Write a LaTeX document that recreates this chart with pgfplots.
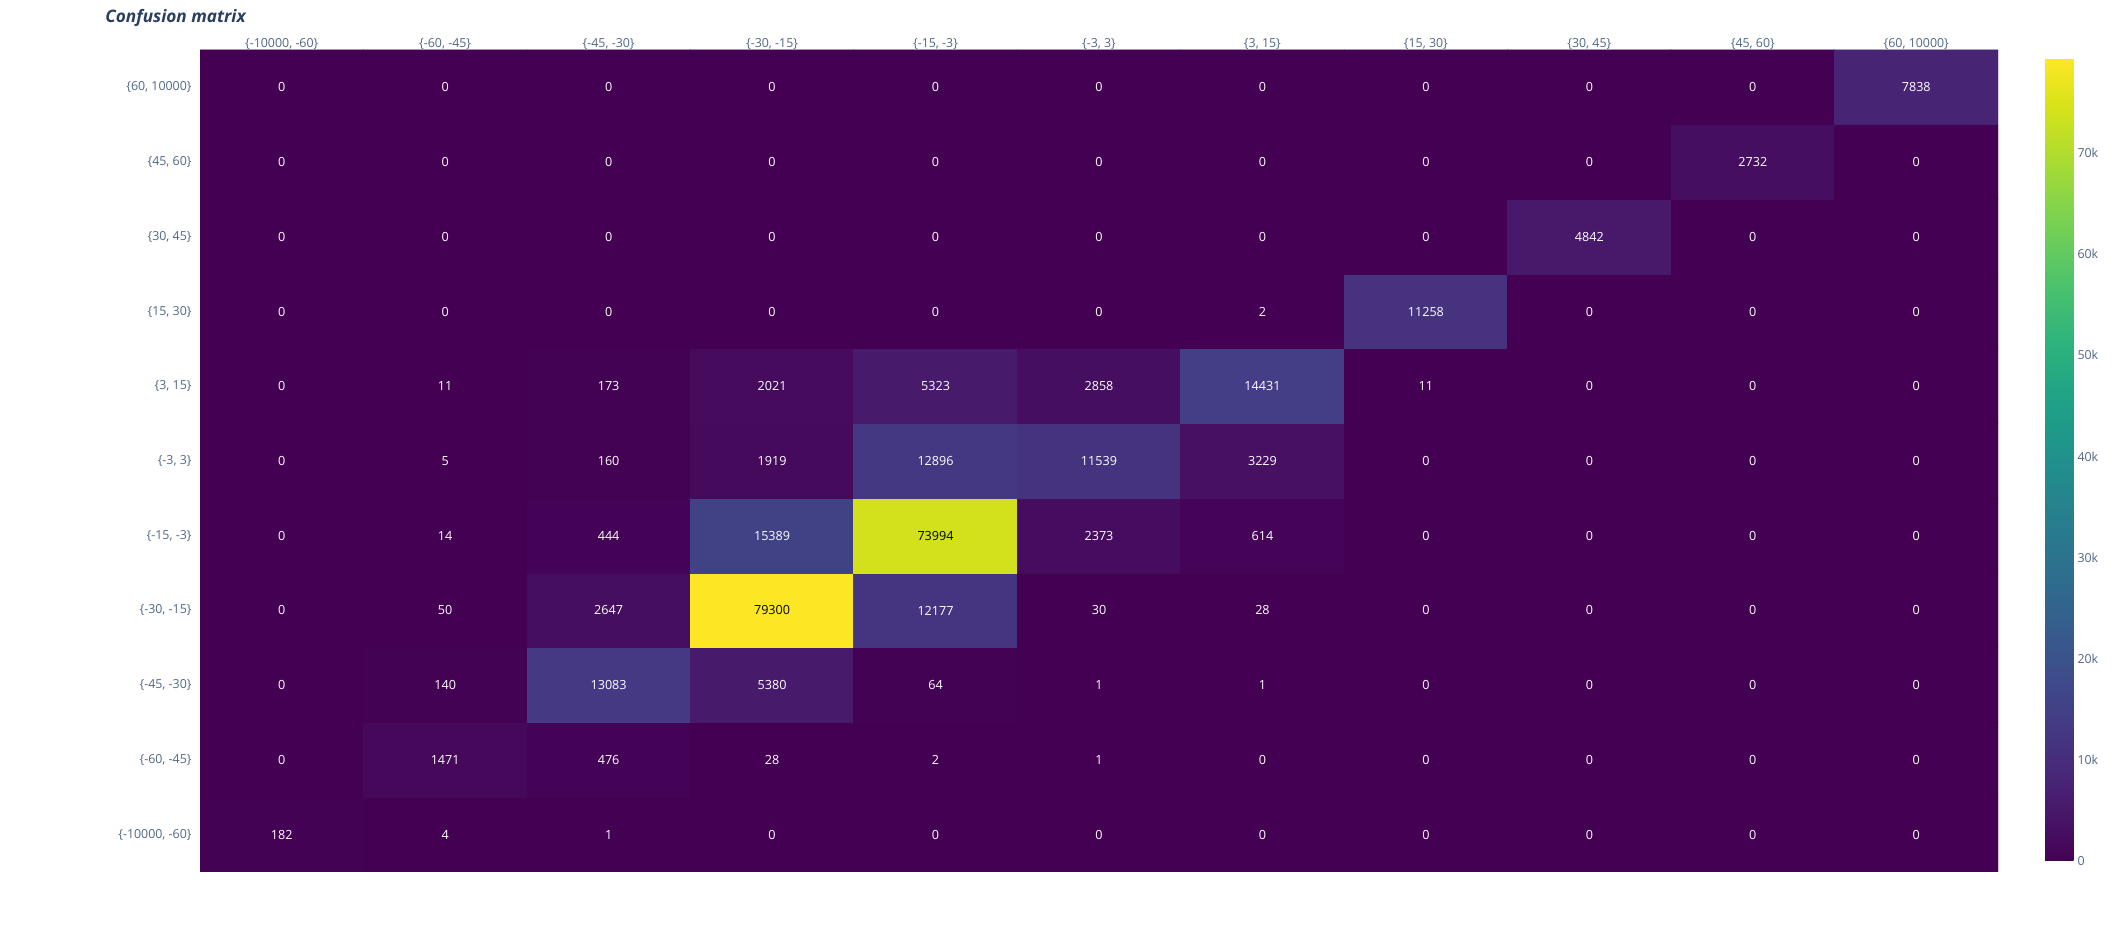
\documentclass[border=0pt]{standalone}
\usepackage{pgfplots}
\pgfplotsset{compat=1.18}
\usepackage{pgfplotstable}
\usepackage{fontspec}
\setmainfont{Open Sans}
\definecolor{plotlytext}{HTML}{2A3F5F}
\definecolor{ticktext}{HTML}{506784}
\definecolor{viridislow}{HTML}{440154}
\pgfplotstableread{
x y z
0 0 182
1 0 4
2 0 1
3 0 0
4 0 0
5 0 0
6 0 0
7 0 0
8 0 0
9 0 0
10 0 0
0 1 0
1 1 1471
2 1 476
3 1 28
4 1 2
5 1 1
6 1 0
7 1 0
8 1 0
9 1 0
10 1 0
0 2 0
1 2 140
2 2 13083
3 2 5380
4 2 64
5 2 1
6 2 1
7 2 0
8 2 0
9 2 0
10 2 0
0 3 0
1 3 50
2 3 2647
3 3 79300
4 3 12177
5 3 30
6 3 28
7 3 0
8 3 0
9 3 0
10 3 0
0 4 0
1 4 14
2 4 444
3 4 15389
4 4 73994
5 4 2373
6 4 614
7 4 0
8 4 0
9 4 0
10 4 0
0 5 0
1 5 5
2 5 160
3 5 1919
4 5 12896
5 5 11539
6 5 3229
7 5 0
8 5 0
9 5 0
10 5 0
0 6 0
1 6 11
2 6 173
3 6 2021
4 6 5323
5 6 2858
6 6 14431
7 6 11
8 6 0
9 6 0
10 6 0
0 7 0
1 7 0
2 7 0
3 7 0
4 7 0
5 7 0
6 7 2
7 7 11258
8 7 0
9 7 0
10 7 0
0 8 0
1 8 0
2 8 0
3 8 0
4 8 0
5 8 0
6 8 0
7 8 0
8 8 4842
9 8 0
10 8 0
0 9 0
1 9 0
2 9 0
3 9 0
4 9 0
5 9 0
6 9 0
7 9 0
8 9 0
9 9 2732
10 9 0
0 10 0
1 10 0
2 10 0
3 10 0
4 10 0
5 10 0
6 10 0
7 10 0
8 10 0
9 10 0
10 10 7838
}\data
\begin{document}
\begin{tikzpicture}
\useasboundingbox (0,0) rectangle (1058.5pt,476pt);
\begin{axis}[
  at={(100pt,40pt)}, anchor=south west,
  scale only axis, width=899pt, height=411pt,
  xmin=-0.5, xmax=10.5, ymin=-0.5, ymax=10.5,
  enlargelimits=false,
  axis background/.style={fill=viridislow},
  axis line style={draw=none},
  major tick length=0pt, tick style={draw=none},
  xtick={0,...,10}, ytick={0,...,10},
  xticklabel pos=upper,
  xticklabels={{\{-10000, -60\}},{\{-60, -45\}},{\{-45, -30\}},{\{-30, -15\}},{\{-15, -3\}},{\{-3, 3\}},{\{3, 15\}},{\{15, 30\}},{\{30, 45\}},{\{45, 60\}},{\{60, 10000\}}},
  yticklabels={{\{-10000, -60\}},{\{-60, -45\}},{\{-45, -30\}},{\{-30, -15\}},{\{-15, -3\}},{\{-3, 3\}},{\{3, 15\}},{\{15, 30\}},{\{30, 45\}},{\{45, 60\}},{\{60, 10000\}}},
  xticklabel style={font=\fontsize{6.2}{7}\selectfont, text=ticktext, inner sep=0pt, yshift=0.3pt},
  yticklabel style={font=\fontsize{6.2}{7}\selectfont, text=ticktext, inner sep=0pt, xshift=-4pt},
  colormap/viridis,
  point meta min=0, point meta max=79300,
  colorbar,
  colorbar style={
    scale only axis, width=14.5pt, height=401pt,
    at={(1.0262,0.0134)}, anchor=south west,
    ytick={0,10000,20000,30000,40000,50000,60000,70000},
    yticklabels={0,10k,20k,30k,40k,50k,60k,70k},
    scaled y ticks=false,
    axis background/.style={},
    axis line style={draw=none},
    major tick length=0pt, tick style={draw=none},
    yticklabel style={font=\fontsize{6.2}{7}\selectfont, text=ticktext, inner sep=0pt, xshift=1.5pt},
  },
]
\addplot[matrix plot*, mesh/cols=11, point meta=explicit, draw=none] table[x=x, y=y, meta=z] {\data};
\addplot[draw=none, mark=none, point meta=explicit symbolic,
  y filter/.expression={\thisrow{z}>50000 ? nan : y},
  nodes near coords,
  every node near coord/.append style={anchor=center, inner sep=0pt, text=white, font=\fontsize{6.3}{7}\selectfont},
] table[x=x, y=y, meta=z] {\data};
\addplot[draw=none, mark=none, point meta=explicit symbolic,
  y filter/.expression={\thisrow{z}>50000 ? y : nan},
  nodes near coords,
  every node near coord/.append style={anchor=center, inner sep=0pt, text=black, font=\fontsize{6.3}{7}\selectfont},
] table[x=x, y=y, meta=z] {\data};
\end{axis}
\node[anchor=west, inner sep=0pt, text=plotlytext, font=\fontsize{8.6}{10}\selectfont\bfseries\itshape] at (52.5pt,467pt) {Confusion matrix};
\end{tikzpicture}
\end{document}
